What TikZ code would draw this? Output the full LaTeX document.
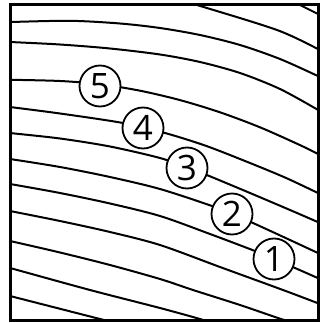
\documentclass[tikz,border=0pt]{standalone}
\usepackage{fontspec}
\setmainfont{Open Sans}
\begin{document}
\begin{tikzpicture}[x=1pt,y=-1pt,
  curve/.style={line width=2pt},
  frame/.style={line width=3pt},
  num/.style={circle, draw, line width=1.8pt, fill=white, minimum size=41pt, inner sep=0pt, font=\fontsize{35}{35}\selectfont}]
\useasboundingbox (0,0) rectangle (320,323);
\begin{scope}
\clip (10,5) rectangle (318,320);
\draw[curve] plot[smooth] coordinates {(290,0) (300,5) (320,15) (330,20)};
\draw[curve] plot[smooth] coordinates {(180,0) (197,5) (277,30) (320,50) (330,55)};
\draw[curve] plot[smooth] coordinates {(0,22) (10,22) (70,20.8) (120,23.5) (160,28) (200,35) (240,45) (280,59) (320,77) (330,82)};
\draw[curve] plot[smooth] coordinates {(0,41.5) (10,42) (60,44.5) (110,48.5) (160,54.5) (200,62) (240,73) (280,89) (320,111) (330,117)};
\draw[curve] plot[smooth] coordinates {(0,80.1) (10,79.8) (60,81) (100,84.2) (140,90.7) (180,100.1) (220,112.3) (260,127.3) (300,145.1) (320,155) (330,160.3)};
\draw[curve] plot[smooth] coordinates {(0,105.5) (10,107) (60,113.5) (123,123) (165,133) (205,145.5) (245,161) (285,177.5) (320,194) (330,199)};
\draw[curve] plot[smooth] coordinates {(0,131.5) (10,133) (60,138.5) (110,146.5) (160,158) (187,167.5) (208,175.5) (250,193) (290,210) (320,223) (330,227.5)};
\draw[curve] plot[smooth] coordinates {(0,157.5) (10,159) (60,167) (110,177) (160,189) (212,206) (232,214) (253,223) (290,240) (320,254) (330,259)};
\draw[curve] plot[smooth] coordinates {(0,182.5) (10,184) (60,193) (110,203.5) (160,216) (210,234) (255,251) (274,259) (295,268) (320,279) (330,283.5)};
\draw[curve] plot[smooth] coordinates {(0,209) (10,211) (60,221) (110,232) (160,245) (220,267) (283,290) (320,304) (330,308)};
\draw[curve] plot[smooth] coordinates {(0,239) (10,241) (60,252.5) (110,265) (160,279) (193,290) (240,305) (278,318) (300,325)};
\draw[curve] plot[smooth] coordinates {(0,265.5) (10,268) (90,290) (160,308) (200,319) (220,325)};
\draw[curve] plot[smooth] coordinates {(0,293.5) (10,296) (100,319) (120,324)};
\end{scope}
\node[num] (n5) at (100,86) {5};
\node[num] (n4) at (143,128) {4};
\node[num] (n3) at (187,168) {3};
\node[num] (n2) at (232,214) {2};
\node[num] (n1) at (274,259) {1};
\draw[frame] (10,5) rectangle (318,320);
\end{tikzpicture}
\end{document}
